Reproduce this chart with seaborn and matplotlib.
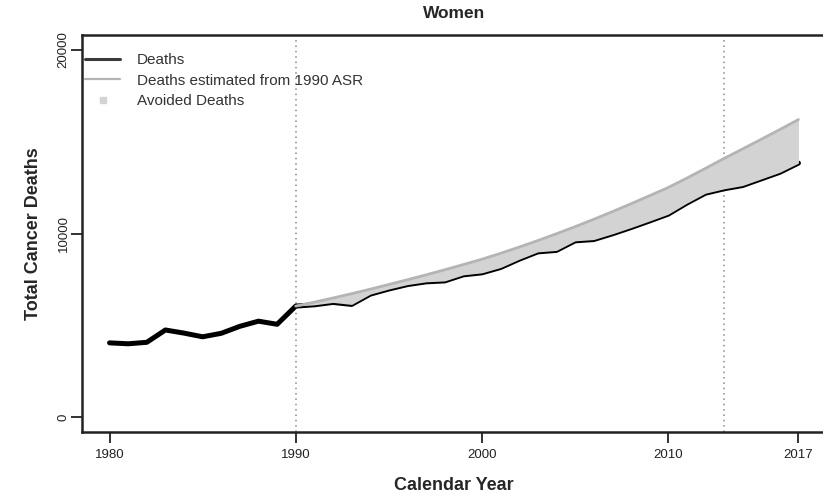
import numpy as np
import pandas as pd
import matplotlib
matplotlib.use("Agg")
import matplotlib.pyplot as plt
from matplotlib.lines import Line2D
import seaborn as sns

# Observed cancer deaths among women, 1980-2017
years = list(range(1980, 2018))
deaths = [4050, 4000, 4080, 4750, 4580, 4380, 4570, 4950, 5230, 5060,
          6050, 6120, 6250, 6140, 6700, 6980, 7220, 7370, 7420, 7750,
          7860, 8150, 8600, 9000, 9080, 9600, 9670, 9980, 10320, 10680,
          11050, 11650, 12190, 12430, 12610, 12970, 13330, 13830]

# Deaths expected had 1990 age-standardised rates persisted
exp_years = list(range(1990, 2018))
expected = [6050, 6265, 6490, 6725, 6970, 7225, 7485, 7750, 8025, 8310,
            8600, 8920, 9260, 9615, 9985, 10370, 10770, 11185, 11615, 12055,
            12500, 13010, 13540, 14080, 14600, 15125, 15655, 16200]

x_ticks = [1980, 1990, 2000, 2010, 2017]
y_ticks = [0, 10000, 20000]
ref_years = [1990, 2013]

obs = pd.DataFrame({"year": years, "deaths": deaths})
est = pd.DataFrame({"year": exp_years, "expected": expected})
post = obs[obs["year"] >= 1990].reset_index(drop=True)

sns.set_style("ticks")
plt.rcParams["font.family"] = ["Liberation Sans", "DejaVu Sans"]

fig = plt.figure(figsize=(8.23, 5.0), dpi=100)
ax = fig.add_axes([82 / 823, 1 - 432 / 500, (826 - 82) / 823, (432 - 35) / 500])

fill_c = "#d3d3d3"
est_c = "#b4b4b4"

sns.lineplot(data=obs, x="year", y="deaths", ax=ax, color="black",
             lw=3.6, zorder=2, legend=False)
ax.fill_between(post["year"], post["deaths"], est["expected"],
                color=fill_c, lw=0, zorder=3)
sns.lineplot(data=est, x="year", y="expected", ax=ax, color=est_c,
             lw=2.0, zorder=4, legend=False)

for yr in ref_years:
    ax.axvline(yr, color="#8a8a8a", lw=1.1, ls=(0, (1, 2.5)), zorder=1)

ax.set_xlim(1978.52, 2018.48)
ax.set_ylim(-800, 20800)
ax.set_xticks(x_ticks)
ax.set_yticks(y_ticks)
ax.set_yticklabels([str(v) for v in y_ticks], rotation=90, va="center")
ax.tick_params(axis="both", direction="out", length=8, width=1.3,
               labelsize=9.5, colors="#222222")
ax.tick_params(axis="x", pad=4)
ax.tick_params(axis="y", pad=1)

for side in ["left", "bottom", "top"]:
    ax.spines[side].set_visible(True)
    ax.spines[side].set_linewidth(1.8)
    ax.spines[side].set_color("#222222")
ax.spines["right"].set_visible(False)

ax.set_xlabel("Calendar Year", fontsize=13, fontweight="bold", labelpad=12)
ax.set_ylabel("Total Cancer Deaths", fontsize=13, fontweight="bold", labelpad=11)
ax.set_title("Women", fontsize=12.5, fontweight="bold", pad=12)

handles = [
    Line2D([], [], color="#3a3a3a", lw=2.2),
    Line2D([], [], color=est_c, lw=1.6),
    Line2D([], [], color=fill_c, marker="s", ls="none", markersize=5),
]
labels = ["Deaths", "Deaths estimated from 1990 ASR", "Avoided Deaths"]
ax.legend(handles, labels, loc="upper left", bbox_to_anchor=(0.0, 0.962),
          frameon=False, fontsize=11, handlelength=2.3, handletextpad=1.1,
          labelspacing=0.42, borderaxespad=0.1, borderpad=0.1,
          labelcolor="#333333")

fig.savefig("out.png", dpi=100)
